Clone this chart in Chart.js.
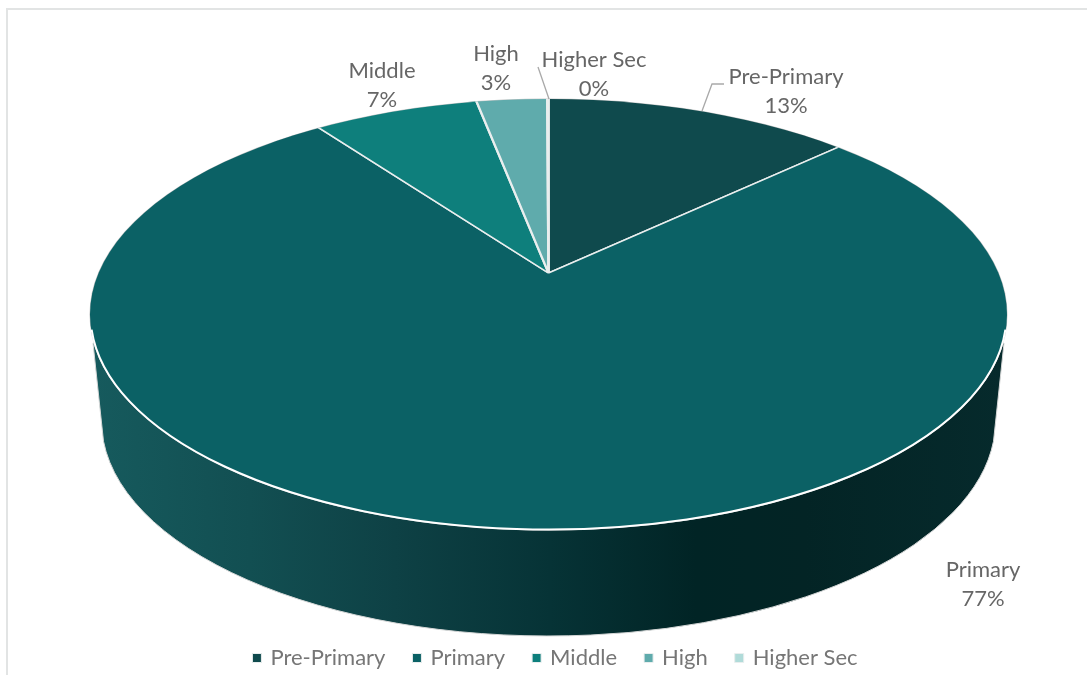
<!DOCTYPE html>
<html><head><meta charset="utf-8">
<style>html,body{margin:0;padding:0;background:#fff}canvas{display:block}</style>
<script src="https://cdn.jsdelivr.net/npm/chart.js@4/dist/chart.umd.min.js"></script>
</head><body>
<canvas id="c" width="1087" height="675"></canvas>
<script>
const categories = ['Pre-Primary','Primary','Middle','High','Higher Sec'];
const values = [13,77,7,3,0.05];
const colors = ['#0f4a4d','#0b6165','#0e7f7c','#5fabac','#b0dbd9'];
const labelCenters = [[786,77],[983,570],[382,71],[496,54],[594,60]];
const TXT='#666666', FONT='Lato, "Open Sans", sans-serif';
// geometry of the tilted disc
const apex={x:548.5,y:273}, top_={cx:548.5,cy:314.5,rx:458.5,ry:215.5}, bot={cx:548.5,cy:421,rx:447,ry:215}, tilt=0.462;

const disc3d={
  id:'disc3d',
  beforeDatasetsDraw(chart){
    const c=chart.ctx, a=chart.getDatasetMeta(0).data[0];
    // wall
    const t=Math.acos(445/bot.rx);
    const g=c.createLinearGradient(95,0,1005,0);
    [[0,'#165a5d'],[.17,'#124f52'],[.33,'#0e4145'],[.5,'#063336'],[.66,'#012425'],[.78,'#032425'],[1,'#062a2c']].forEach(s=>g.addColorStop(s[0],s[1]));
    c.save();
    c.beginPath();c.moveTo(93,343);
    c.lineTo(bot.cx-445,bot.cy+bot.ry*Math.sin(t));
    c.ellipse(bot.cx,bot.cy,bot.rx,bot.ry,0,Math.PI-t,t,true);
    c.lineTo(1004,343);c.closePath();
    c.fillStyle=g;c.fill();c.lineWidth=1;c.strokeStyle='#d4d6d6';c.stroke();
    // thin shadow rim around top
    c.beginPath();c.ellipse(top_.cx,top_.cy,top_.rx+.5,top_.ry+.5,0,0,Math.PI*2);c.fillStyle='#c4c6c6';c.fill();
    // clip to the disc and project the pie on it
    c.beginPath();c.ellipse(top_.cx,top_.cy,top_.rx,top_.ry,0,0,Math.PI*2);c.clip();
    const s=760/a.outerRadius;
    c.translate(apex.x,apex.y);c.scale(s,s*tilt);c.translate(-a.x,-a.y);
  },
  afterDatasetsDraw(chart){
    const c=chart.ctx;
    c.restore();
    c.save();
    c.beginPath();c.ellipse(top_.cx,top_.cy,top_.rx-.5,top_.ry-.5,0,0.07,Math.PI-0.07);c.strokeStyle='#ffffff';c.lineWidth=2;c.stroke();
    c.restore();
  },
  afterDraw(chart){
    const c=chart.ctx,total=values.reduce((x,y)=>x+y,0);
    c.save();
    // frame
    c.strokeStyle='#e2e4e4';c.lineWidth=2;c.beginPath();c.moveTo(7,675);c.lineTo(7,9);c.lineTo(1087,9);c.stroke();
    // leaders
    c.strokeStyle='#a9a9a9';c.lineWidth=1.3;
    c.beginPath();c.moveTo(702,111);c.lineTo(712,84);c.lineTo(724,84);c.stroke();
    c.beginPath();c.moveTo(538,67);c.lineTo(549,99);c.stroke();
    c.fillStyle=TXT;c.font='22px '+FONT;c.textAlign='center';c.textBaseline='middle';
    categories.forEach((n,i)=>{
      const p=labelCenters[i];
      c.fillText(n,p[0],p[1]);
      c.fillText(Math.round(values[i]/total*100)+'%',p[0],p[1]+29);
    });
    c.restore();
  }
};

new Chart(document.getElementById('c'),{
  type:'pie',
  data:{labels:categories,datasets:[{data:values,backgroundColor:colors,borderColor:'#e9eeee',borderWidth:1}]},
  options:{
    responsive:false,animation:false,
    layout:{padding:{bottom:-4,left:25}},
    plugins:{
      legend:{position:'bottom',labels:{usePointStyle:true,pointStyle:'rect',boxWidth:5,boxHeight:9,padding:29,color:'#767676',font:{family:FONT,size:22}}},
      tooltip:{enabled:false}
    }
  },
  plugins:[disc3d]
});
</script>
</body></html>
